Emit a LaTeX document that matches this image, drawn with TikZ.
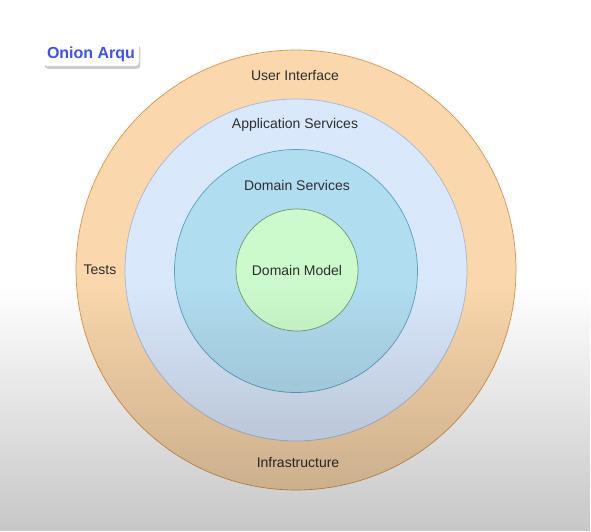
\documentclass[tikz,border=0pt]{standalone}
\usepackage{fontspec}
\setmainfont{Liberation Sans}
\usetikzlibrary{fadings,shadows}
\definecolor{uifill}{HTML}{FAD7AC}
\definecolor{uistroke}{HTML}{D4964F}
\definecolor{asfill}{HTML}{DAE8FC}
\definecolor{asstroke}{HTML}{A7B7D6}
\definecolor{dsfill}{HTML}{B1DDF0}
\definecolor{dsstroke}{HTML}{5E9CC0}
\definecolor{dmfill}{HTML}{CCFACC}
\definecolor{dmstroke}{HTML}{6C9A6C}
\definecolor{txt}{HTML}{2E2E2E}
\definecolor{titleblue}{HTML}{3D50F5}
\begin{document}
\begin{tikzpicture}[x=1pt,y=-1pt,
  ring/.style={circle, draw, line width=0.7pt, inner sep=0pt},
  lbl/.style={font=\fontsize{14}{16}\selectfont, text=txt, inner sep=1pt}]
\useasboundingbox (0,0) rectangle (591,531);
\fill[white] (0,0) rectangle (591,531);
\node[ring, fill=uifill, draw=uistroke, minimum size=440pt] (ui) at (296,270) {};
\node[ring, fill=asfill, draw=asstroke, minimum size=342pt] (as) at (296,270) {};
\node[ring, fill=dsfill, draw=dsstroke, minimum size=243pt] (ds) at (296,271) {};
\node[ring, fill=dmfill, draw=dmstroke, minimum size=122pt, lbl] (dm) at (297,270) {Domain Model};
\node[lbl] (uil) at (295,75) {User Interface};
\node[lbl] (asl) at (295,125) {Application Services};
\node[lbl] (dsl) at (297,185) {Domain Services};
\node[lbl] (tests) at (100,270) {Tests};
\node[lbl] (infra) at (298,462) {Infrastructure};
\fill[black, fill opacity=0.22, path fading=north] (0,285) rectangle (591,531);
\node[fill=white, rounded corners=4pt, inner xsep=4pt, inner ysep=4.5pt,
  drop shadow={shadow xshift=1.5pt, shadow yshift=-3pt, opacity=0.2, fill=black},
  text=titleblue, font=\bfseries\fontsize{16}{18}\selectfont] (title) at (91,54) {Onion Arqu};
\end{tikzpicture}
\end{document}
